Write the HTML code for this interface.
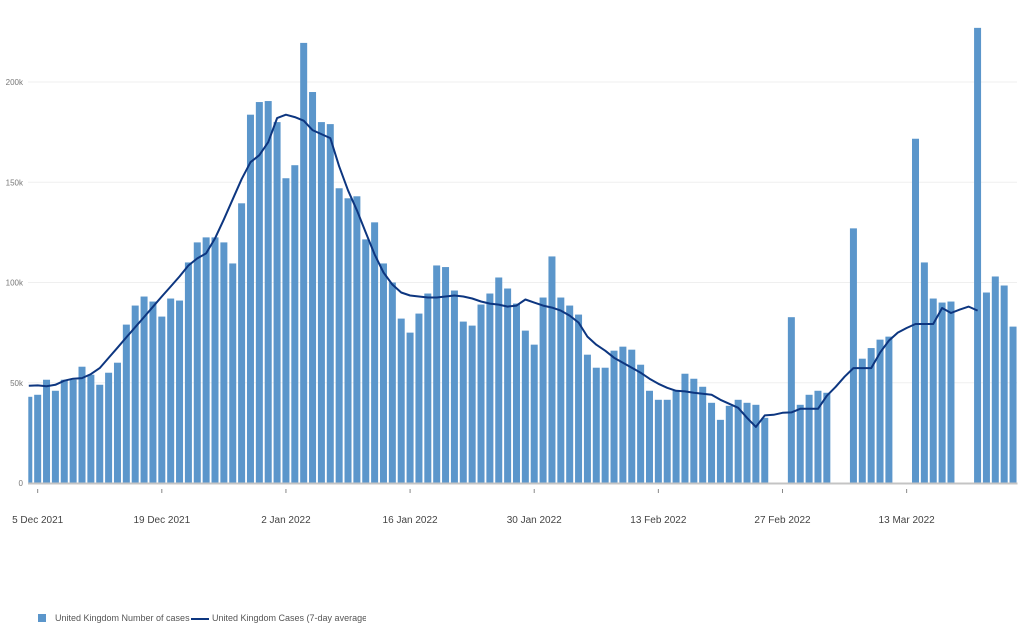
<!DOCTYPE html>
<html><head><meta charset="utf-8"><style>
body{margin:0;background:#fff;font-family:"Liberation Sans",sans-serif;}
svg{display:block}
</style></head><body>
<svg id="chart" width="1024" height="633" xmlns="http://www.w3.org/2000/svg"><defs><clipPath id="plotclip"><rect x="28.3" y="0" width="990" height="484"/></clipPath></defs><g id="grid"></g><g id="bars" clip-path="url(#plotclip)"></g></svg>
<script>
const startLabel = "4 Dec 2021";
const cases = [43,44,51.5,46,51.5,51.5,58,54,49,55,60,79,88.5,93,90.5,83,92,91,110,120,122.5,122.5,120,109.5,139.5,183.7,190,190.5,180,152,158.5,219.5,195,180,179,147,142,143,121.5,130,109.5,100,82,75,84.5,94.5,108.5,107.7,96,80.5,78.5,89,94.5,102.5,97,89.5,76,69,92.5,113,92.5,88.5,84,64,57.5,57.5,66,68,66.5,59,46,41.5,41.5,46,54.5,52,48,40,31.5,38.5,41.5,40,39,32.5,null,null,82.7,39,44,46,45,null,null,127,62,67.3,71.5,73,null,null,171.7,110,92,90,90.5,null,null,227,95,103,98.5,78];
const avg7 = [48.5,48.7,48.3,49,51,52,52.3,54.3,57.3,62.4,67.5,72.6,77.7,82.8,87.9,93,98,103,108.5,112,114.5,122,131.5,141.5,151.5,160,163.5,170,182,183.7,182.5,180.7,176,174,172,158,146,136,125,114,105,99,95,93.5,93,92.5,92.5,93,93.5,93,92,90.5,89.5,89,88,88.5,91.5,90,88.5,87.5,86,83.5,80,73,69,66,62.5,60,57.5,55,52,49.5,47.5,46,45.7,45,44.5,44,41.5,39.5,37.5,32.5,28,33.7,34,35,35.2,37,37,37,43.5,48,53,57.3,57.3,57.3,65,71,75,77.3,79.3,79.3,79.3,87.3,84.8,86.5,88,86];
const yTicks = [0,50,100,150,200];
const yTickLabels = ["0","50k","100k","150k","200k"];
const xTickIdx = [1,15,29,43,57,71,85,99];
const xTickLabels = ["5 Dec 2021","19 Dec 2021","2 Jan 2022","16 Jan 2022","30 Jan 2022","13 Feb 2022","27 Feb 2022","13 Mar 2022"];

const svg = document.getElementById('chart');
const barG = document.getElementById('bars');
const gridG = document.getElementById('grid');




const NS = "http://www.w3.org/2000/svg";
function x(i){return 28.8 + 8.867*i;}
function y(v){return 483 - v*2.005;}
function mk(tag, attrs, parent){const e=document.createElementNS(NS,tag);for(const k in attrs)e.setAttribute(k,attrs[k]);(parent||svg).appendChild(e);return e;}

yTicks.forEach((t,i)=>{
  if(t>0){const g=mk('line',{x1:28,x2:1017,y1:y(t),y2:y(t),stroke:'#efefef','stroke-width':1},gridG);
  
  }
  const tx=mk('text',{x:23,y:y(t)+3,'font-size':8,fill:'#777','text-anchor':'end'});
  tx.textContent=yTickLabels[i];
  
  
});

cases.forEach((v,i)=>{
  if(v==null)return;
  const r=mk('rect',{x:x(i)-3.5,y:y(v),width:7,height:483-y(v),fill:'#5b96cb'},barG);
  
  
});

const ax=mk('line',{x1:28,x2:1017.5,y1:483.5,y2:483.5,stroke:'#c4c4c4','stroke-width':2});



xTickIdx.forEach((idx,i)=>{
  const tk=mk('line',{x1:x(idx),x2:x(idx),y1:489,y2:493,stroke:'#888','stroke-width':1});
  
  
  const tx=mk('text',{x:x(idx),y:523,'font-size':10,fill:'#444','text-anchor':'middle'});
  tx.textContent=xTickLabels[i];
  
  
});

const pts=avg7.map((v,i)=>x(i).toFixed(1)+','+y(v).toFixed(1)).join(' ');
const pl=mk('polyline',{points:pts,fill:'none',stroke:'#0d3680','stroke-width':2,'stroke-linejoin':'round'});


</script>
<div style="position:absolute;left:0;top:610px;width:400px;height:20px;font-size:9px;color:#555;">
  <div style="position:absolute;left:38px;top:4px;white-space:nowrap;">
    <span style="position:absolute;left:0;top:0;width:8px;height:8px;background:#5b96cb;"></span>
    <span style="position:absolute;left:17px;top:-1px;">United Kingdom Number of cases</span>
  </div>
  <div style="position:absolute;left:190px;top:4px;width:176px;overflow:hidden;height:14px;white-space:nowrap;">
    <span style="position:absolute;left:1px;top:4px;width:18px;height:2px;background:#0d3680;"></span>
    <span style="position:absolute;left:22px;top:-1px;">United Kingdom Cases (7-day average)</span>
  </div>
</div>
</body></html>
